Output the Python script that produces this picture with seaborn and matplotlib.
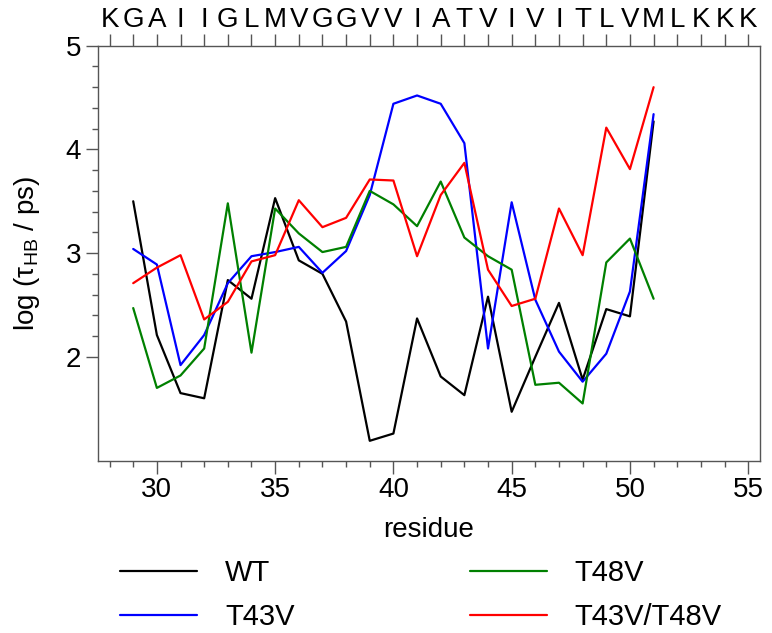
import numpy as np
import pandas as pd
import matplotlib
matplotlib.use("Agg")
import matplotlib.pyplot as plt
import seaborn as sns
from matplotlib.ticker import FixedLocator, MultipleLocator

# ---- data ----
residues = list(range(29, 52))
wt   = [3.50, 2.21, 1.65, 1.60, 2.74, 2.56, 3.53, 2.93, 2.80, 2.34, 1.19, 1.26,
        2.37, 1.81, 1.63, 2.58, 1.47, 2.00, 2.52, 1.78, 2.46, 2.39, 4.27]
t43v = [3.04, 2.89, 1.92, 2.21, 2.71, 2.97, 3.01, 3.06, 2.81, 3.02, 3.56, 4.44,
        4.52, 4.44, 4.06, 2.08, 3.49, 2.55, 2.05, 1.76, 2.03, 2.63, 4.34]
t48v = [2.47, 1.70, 1.82, 2.08, 3.48, 2.04, 3.43, 3.19, 3.01, 3.06, 3.60, 3.47,
        3.26, 3.69, 3.15, 2.97, 2.84, 1.73, 1.75, 1.55, 2.91, 3.14, 2.56]
t43v_t48v = [2.71, 2.86, 2.98, 2.36, 2.53, 2.92, 2.98, 3.51, 3.25, 3.34, 3.71, 3.70,
             2.97, 3.56, 3.87, 2.84, 2.49, 2.56, 3.43, 2.98, 4.21, 3.81, 4.60]
series_names = ["WT", "T43V", "T48V", "T43V/T48V"]
series_colors = ["black", "#0000ff", "#008000", "#ff0000"]
seq_residues = list(range(28, 56))
seq_letters = list("KGAIIGLMVGGVVIATVIVITLVMLKKK")
x_ticks = [30, 35, 40, 45, 50, 55]
y_ticks = [2, 3, 4, 5]

df = pd.concat([
    pd.DataFrame({"residue": residues, "value": vals, "variant": name})
    for name, vals in zip(series_names, [wt, t43v, t48v, t43v_t48v])
], ignore_index=True)

sns.set_theme(style="ticks")
plt.rcParams["font.family"] = ["Liberation Sans", "DejaVu Sans"]
plt.rcParams["mathtext.fontset"] = "custom"
plt.rcParams["mathtext.rm"] = "Liberation Sans"
plt.rcParams["mathtext.it"] = "Liberation Sans:italic"
plt.rcParams["text.color"] = "black"
plt.rcParams["axes.labelcolor"] = "black"
plt.rcParams["xtick.labelcolor"] = "black"
plt.rcParams["ytick.labelcolor"] = "black"

FS = 20
LFS = 21
spine_c = "#555555"

fig = plt.figure(figsize=(7.72, 6.33), dpi=100)
ax = fig.add_axes([0.1266, 0.2725, 0.8579, 0.6553])

sns.lineplot(data=df, x="residue", y="value", hue="variant",
             hue_order=series_names, palette=series_colors,
             linewidth=1.6, ax=ax, sort=True)

ax.set_xlim(27.5, 55.5)
ax.set_ylim(1, 5)
ax.set_xticks(x_ticks)
ax.xaxis.set_minor_locator(MultipleLocator(1))
ax.set_yticks(y_ticks)
ax.yaxis.set_minor_locator(FixedLocator([2.2, 2.4, 2.6, 2.8, 3.2, 3.4, 3.6, 3.8,
                                         4.2, 4.4, 4.6, 4.8]))
ax.tick_params(axis="both", which="major", length=9, width=1.0, color=spine_c,
               labelsize=FS, pad=3, labelcolor="black")
ax.tick_params(axis="both", which="minor", length=4.5, width=1.0, color=spine_c)
for s in ax.spines.values():
    s.set_visible(True)
    s.set_color(spine_c)
    s.set_linewidth(1.0)

ax.set_xlabel("residue", fontsize=FS, labelpad=10, color="black")
ax.set_ylabel("log (τ$_{\\mathrm{HB}}$ / ps)", fontsize=FS, labelpad=17,
              color="black")

# top axis with sequence letters
ax2 = ax.twiny()
ax2.set_xlim(ax.get_xlim())
ax2.set_xticks(seq_residues)
ax2.set_xticklabels(seq_letters)
ax2.tick_params(axis="x", which="major", length=9, width=1.0, color=spine_c,
                labelsize=FS, pad=0, labelcolor="black")
for s in ax2.spines.values():
    s.set_visible(False)

sns.move_legend(ax, "upper left", bbox_to_anchor=(120 / 772, 1 - 559 / 633),
                bbox_transform=fig.transFigure, ncol=2, frameon=False,
                title=None, fontsize=LFS, handlelength=2.64, handletextpad=0.96,
                columnspacing=6.0, labelspacing=0.55, borderpad=0,
                borderaxespad=0)

fig.savefig("out.png", dpi=100)
